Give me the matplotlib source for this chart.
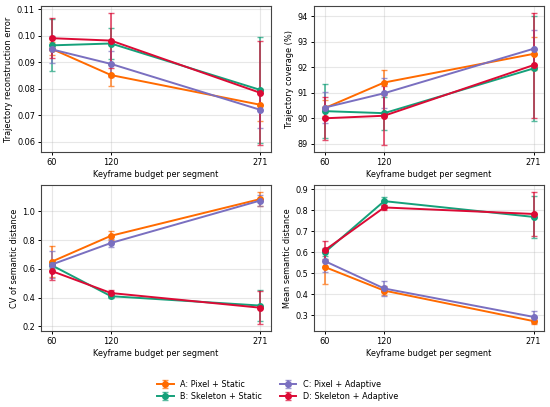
import matplotlib
matplotlib.use("Agg")
import matplotlib.pyplot as plt

# budgets
budgets = [60, 120, 271]

labels = ["A: Pixel + Static", "B: Skeleton + Static",
          "C: Pixel + Adaptive", "D: Skeleton + Adaptive"]
colores = ["#ff6a00", "#15a07a", "#7a6fc0", "#dc0a35"]

# trajectory reconstruction error
err_mean = [[0.0950, 0.0851, 0.0739],
            [0.0963, 0.0970, 0.0795],
            [0.0948, 0.0893, 0.0720],
            [0.0990, 0.0981, 0.0784]]
err_sd = [[0.0025, 0.0041, 0.0060],
          [0.0098, 0.0058, 0.0201],
          [0.0052, 0.0050, 0.0070],
          [0.0075, 0.0105, 0.0197]]

# trajectory coverage
cov_mean = [[90.40, 91.40, 92.52],
            [90.28, 90.20, 91.95],
            [90.42, 90.98, 92.72],
            [90.00, 90.10, 92.08]]
cov_sd = [[0.30, 0.50, 0.65],
          [1.05, 0.65, 2.05],
          [0.60, 0.58, 0.75],
          [0.83, 1.15, 2.05]]

# CV of semantic distance
cv_mean = [[0.650, 0.830, 1.085],
           [0.625, 0.410, 0.345],
           [0.630, 0.780, 1.075],
           [0.585, 0.432, 0.330]]
cv_sd = [[0.110, 0.030, 0.050],
         [0.020, 0.015, 0.110],
         [0.095, 0.030, 0.040],
         [0.065, 0.020, 0.115]]

# mean semantic distance
sem_mean = [[0.530, 0.418, 0.273],
            [0.600, 0.843, 0.768],
            [0.558, 0.428, 0.293],
            [0.610, 0.813, 0.782]]
sem_sd = [[0.080, 0.020, 0.015],
          [0.020, 0.020, 0.100],
          [0.050, 0.035, 0.027],
          [0.043, 0.010, 0.105]]

paneles = [
    (err_mean, err_sd, "Trajectory reconstruction error"),
    (cov_mean, cov_sd, "Trajectory coverage (%)"),
    (cv_mean, cv_sd, "CV of semantic distance"),
    (sem_mean, sem_sd, "Mean semantic distance"),
]

fs = 5.9
plt.rcParams["font.size"] = fs
fig, axs = plt.subplots(2, 2, figsize=(5.5, 4.07), dpi=100)
fig.subplots_adjust(left=0.075, right=0.989, top=0.985, bottom=0.187,
                    wspace=0.19, hspace=0.23)

for ax, (medias, sds, ylabel) in zip(axs.flat, paneles):
    for i in range(4):
        eb = ax.errorbar(budgets, medias[i], yerr=sds[i], fmt="-o",
                         color=colores[i], markersize=4, linewidth=1.4,
                         elinewidth=1.3, capsize=2, capthick=1.0,
                         label=labels[i])
        for c in eb[1]:
            c.set_alpha(0.7)
        for c in eb[2]:
            c.set_alpha(0.7)
    ax.set_xticks(budgets)
    ax.set_xlabel("Keyframe budget per segment", fontsize=fs, labelpad=2)
    ax.set_ylabel(ylabel, fontsize=fs, labelpad=2.5)
    ax.grid(True, alpha=0.3)
    ax.tick_params(labelsize=fs, length=2.5, width=0.7, pad=2)
    for s in ax.spines.values():
        s.set_color("#444444")

handles, labs = axs[0, 0].get_legend_handles_labels()
fig.legend(handles, labs, loc="upper center", bbox_to_anchor=(0.505, 0.085),
           ncol=2, frameon=False, fontsize=fs, columnspacing=2.2,
           labelspacing=0.4)

plt.savefig("out.png", dpi=100)
plt.close("all")
